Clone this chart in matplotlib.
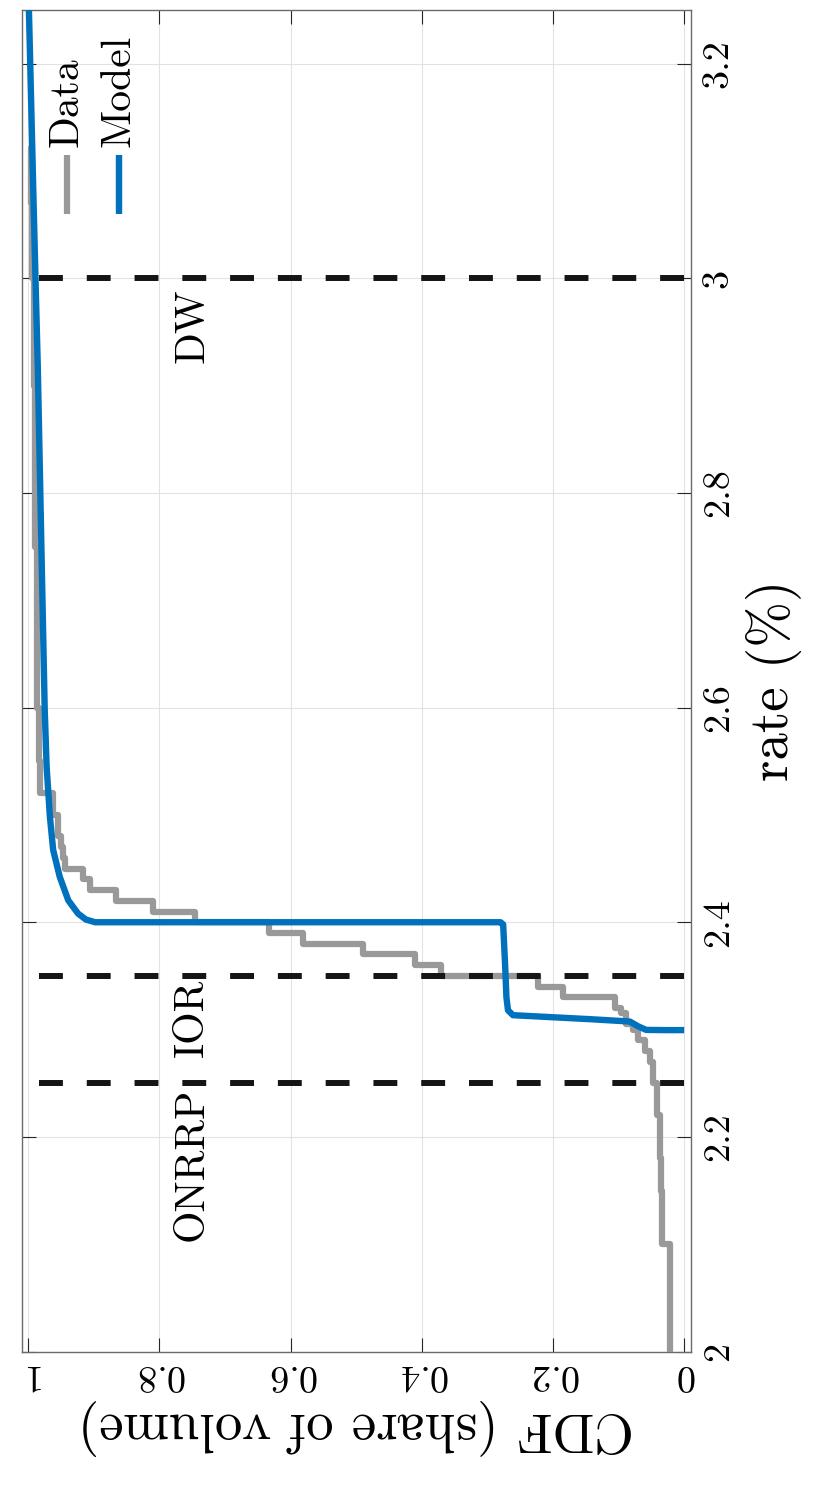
import matplotlib
matplotlib.use('Agg')
import matplotlib.pyplot as plt
from matplotlib.lines import Line2D

plt.rcParams['font.family'] = ['cmr10', 'DejaVu Serif']
plt.rcParams['mathtext.fontset'] = 'cm'
plt.rcParams['axes.unicode_minus'] = False
plt.rcParams['axes.formatter.use_mathtext'] = True

# ---------------- data ----------------
# Empirical CDF of volume (step function): rate (%) where CDF jumps, CDF after jump
data_rate = [2.00, 2.10, 2.15, 2.18, 2.22, 2.25, 2.27, 2.28, 2.29, 2.30, 2.305,
             2.315, 2.32, 2.33, 2.34, 2.35, 2.36, 2.37, 2.38, 2.39, 2.40, 2.41,
             2.42, 2.43, 2.44, 2.45, 2.46, 2.47, 2.48, 2.50, 2.52, 2.55, 2.60,
             2.75, 2.90, 3.00, 3.07, 3.12]
data_cdf = [0.022, 0.034, 0.036, 0.037, 0.0415, 0.0476, 0.0526, 0.060, 0.070,
            0.078, 0.088, 0.096, 0.106, 0.185, 0.223, 0.370, 0.411, 0.490,
            0.581, 0.633, 0.746, 0.810, 0.866, 0.906, 0.917, 0.944, 0.947,
            0.950, 0.954, 0.962, 0.9825, 0.984, 0.987, 0.990, 0.992, 0.994,
            0.996, 1.0]

# Model CDF (smooth)
model_rate = [2.2995, 2.2995, 2.2997, 2.303, 2.3075, 2.3097, 2.3134, 2.318,
              2.33, 2.36, 2.398, 2.400, 2.400, 2.4025, 2.408, 2.4204, 2.4423,
              2.4672, 2.4982, 2.5448, 2.60, 2.75, 2.918, 3.00, 3.073, 3.25]
model_cdf = [0.0, 0.03, 0.058, 0.070, 0.083, 0.144, 0.261, 0.2686, 0.271,
             0.273, 0.276, 0.280, 0.898, 0.912, 0.924, 0.939, 0.952, 0.962,
             0.967, 0.972, 0.975, 0.980, 0.9855, 0.989, 0.992, 0.999]

# Policy rates
ref_rates = [2.25, 2.35, 3.0]
ref_labels = ['ONRRP', 'IOR', 'DW']
ref_label_pos = [2.2455, 2.3475, 2.991]

cdf_ticks = [0, 0.2, 0.4, 0.6, 0.8, 1]
cdf_ticklabels = ['0', '0.2', '0.4', '0.6', '0.8', '1']
rate_ticks = [2, 2.2, 2.4, 2.6, 2.8, 3, 3.2]
rate_ticklabels = ['2', '2.2', '2.4', '2.6', '2.8', '3', '3.2']

series_names = ['Data', 'Model']

# ---------------- figure ----------------
GRAY = '#999999'
BLUE = '#0072BD'
LW_DATA = 4.5
LW_MODEL = 4.6

fig = plt.figure(figsize=(8.16, 14.88), dpi=100)
ax = fig.add_axes([0.0266, 0.0917, 0.8199, 0.9016])

ax.plot(data_cdf, data_rate, color=GRAY, lw=LW_DATA, drawstyle='steps-pre',
        solid_joinstyle='round', solid_capstyle='butt', zorder=3)
for r in ref_rates:
    ax.plot([0, 1], [r, r], color='#151515', lw=4.3, dashes=(4, 4),
            dash_capstyle='butt', zorder=4)
ax.plot(model_cdf, model_rate, color=BLUE, lw=LW_MODEL, solid_joinstyle='round',
        solid_capstyle='butt', zorder=5)

for lab, rpos in zip(ref_labels, ref_label_pos):
    ax.text(0.7335, rpos, lab, rotation=90, rotation_mode='anchor',
            ha='right', va='baseline', fontsize=30, color='black', zorder=6)

ax.set_xlim(1.01, -0.01)
ax.set_ylim(2.0, 3.25)

ax.set_xticks(cdf_ticks, cdf_ticklabels, rotation=180, ha='center', va='top')
ax.set_yticks(rate_ticks, rate_ticklabels, rotation=90, ha='left', va='center')
ax.yaxis.tick_right()
ax.yaxis.set_label_position('right')
ax.tick_params(axis='both', which='both', direction='in', length=10, width=0.8,
               color='#262626', labelsize=27.5, top=True, bottom=True,
               left=True, right=True, labelleft=False, labelright=True,
               labeltop=False, labelbottom=True)
ax.tick_params(axis='x', pad=4.3)
ax.tick_params(axis='y', pad=7.8)

ax.grid(True, color='#e2e2e2', lw=0.8, zorder=0)
ax.set_axisbelow(True)
for sp in ax.spines.values():
    sp.set_color('#6a6a6a')
    sp.set_linewidth(1.0)

ax.set_xlabel('CDF (share of volume)', rotation=180, fontsize=39.5, labelpad=6)
ax.set_ylabel('rate (%)', rotation=90, fontsize=39.5, labelpad=8)

# manual (rotated) legend
leg_x = [0.0677, 0.1451]
leg_colors = [GRAY, BLUE]
leg_lw = [LW_DATA, LW_MODEL]
for xx, col, lw, name in zip(leg_x, leg_colors, leg_lw, series_names):
    ax.add_line(Line2D([xx, xx], [0.848, 0.892], transform=ax.transAxes,
                       color=col, lw=lw, solid_capstyle='butt', zorder=7))
    ax.text(xx + 0.0155, 0.8981, name, transform=ax.transAxes, rotation=90,
            rotation_mode='anchor', ha='left', va='baseline', fontsize=30,
            zorder=7)

fig.savefig('out.png', dpi=100, facecolor='white')
